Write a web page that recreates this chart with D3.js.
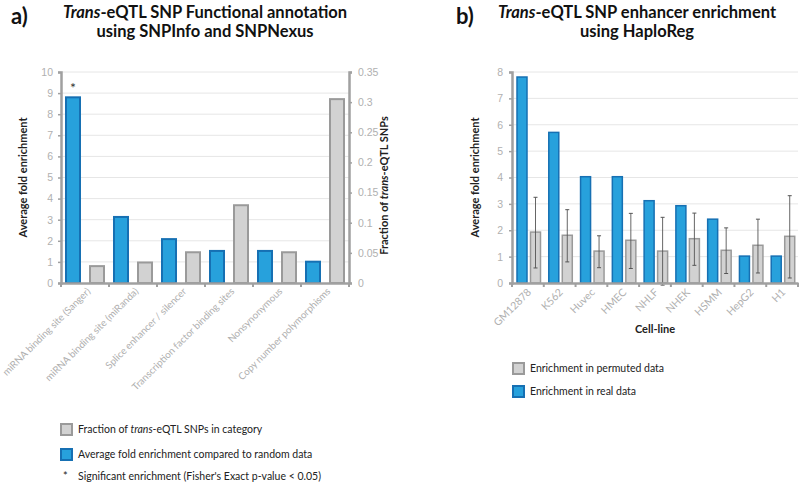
<!DOCTYPE html>
<html><head><meta charset="utf-8">
<script src="https://cdn.jsdelivr.net/npm/d3@7"></script>
<style>
body{margin:0;background:#fff;}
svg{font-family:Lato,"Open Sans",sans-serif;}
</style></head>
<body><svg id="c" width="800" height="483"></svg>
<script>
// ---- Panel a data ----
const catsA = ["miRNA binding site (Sanger)","miRNA binding site (miRanda)","Splice enhancer / silencer","Transcription factor binding sites","Nonsynonymous","Copy number polymorphisms"];
const foldA = [8.8, 3.13, 2.08, 1.52, 1.52, 1.01];
const fracA = [0.028, 0.034, 0.051, 0.129, 0.051, 0.305];
const sigA = [true, false, false, false, false, false];
const leftTicksA = [0,1,2,3,4,5,6,7,8,9,10];
const rightTicksA = [0,0.05,0.1,0.15,0.2,0.25,0.3,0.35];

// ---- Panel b data ----
const catsB = ["GM12878","K562","Huvec","HMEC","NHLF","NHEK","HSMM","HepG2","H1"];
const realB = [7.81, 5.71, 4.03, 4.03, 3.12, 2.93, 2.42, 1.02, 1.02];
const permB = [1.93, 1.81, 1.21, 1.62, 1.21, 1.68, 1.24, 1.43, 1.77];
const permHiB = [3.25, 2.78, 1.79, 2.64, 2.49, 2.65, 2.09, 2.42, 3.31];
const permLoB = [0.57, 0.80, 0.58, 0.55, -0.08, 0.67, 0.36, 0.38, 0.19];
const ticksB = [0,1,2,3,4,5,6,7,8];

const BLUE = "#27a1dc", BLUE_S = "#1670b3", GREY = "#d2d2d2", GREY_S = "#9a9a9a";
const AXIS = "#a0a0a0", GRID = "#e6e6e6", TICKTXT = "#b0b0b0";

const svg = d3.select("#c");

function title(x, y, italic, rest){
  const t = svg.append("text").attr("x",x).attr("y",y).attr("text-anchor","middle")
    .attr("font-size",16.5).attr("font-weight",700).attr("fill","#111");
  if (italic) t.append("tspan").attr("font-style","italic").text(italic);
  t.append("tspan").text(rest);
}

// ================= Panel a =================
(function(){
  const x0 = 61, x1 = 349, yTop = 72, yBot = 283;
  const x = d3.scaleBand().domain(catsA).range([x0, x1]);
  const yL = d3.scaleLinear().domain([0,10]).range([yBot, yTop]);
  const yR = d3.scaleLinear().domain([0,0.35]).range([yBot, yTop]);
  const g = svg.append("g");

  g.selectAll("line.grid").data(leftTicksA.slice(1)).join("line")
    .attr("x1", x0).attr("x2", x1).attr("y1", d=>yL(d)).attr("y2", d=>yL(d))
    .attr("stroke", GRID).attr("stroke-width",1);

  const bw = 16;
  g.selectAll("rect.blue").data(catsA).join("rect")
    .attr("x", d=>x(d)+5).attr("width", bw-2)
    .attr("y", (d,i)=>yL(foldA[i])).attr("height",(d,i)=>yBot-yL(foldA[i]))
    .attr("fill", BLUE).attr("stroke", BLUE_S).attr("stroke-width",2);
  g.selectAll("rect.grey").data(catsA).join("rect")
    .attr("x", d=>x(d)+29).attr("width", bw-2)
    .attr("y", (d,i)=>yR(fracA[i])).attr("height",(d,i)=>yBot-yR(fracA[i]))
    .attr("fill", GREY).attr("stroke", GREY_S).attr("stroke-width",2);

  g.selectAll("text.sig").data(catsA.filter((d,i)=>sigA[i])).join("text")
    .attr("x", d=>x(d)+12).attr("y", d=>yL(foldA[catsA.indexOf(d)])-4)
    .attr("text-anchor","middle").attr("font-size",14).attr("fill","#333").text("*");

  const axL = d3.axisLeft(yL).tickValues(leftTicksA).tickSize(3).tickPadding(5);
  const gl = g.append("g").attr("transform",`translate(${x0},0)`).call(axL);
  const axR = d3.axisRight(yR).tickValues(rightTicksA).tickSize(3).tickPadding(6)
    .tickFormat(d=>d3.format("~g")(d));
  const gr = g.append("g").attr("transform",`translate(${x1},0)`).call(axR);
  const gb = g.append("g").attr("transform",`translate(0,${yBot})`).call(d3.axisBottom(x).tickSize(0).tickFormat(""));
  [gl,gr,gb].forEach(a=>{
    a.select(".domain").attr("stroke",AXIS).attr("stroke-width",2.5);
    a.selectAll(".tick line").attr("stroke",AXIS).attr("stroke-width",1.5);
    a.selectAll(".tick text").attr("fill",TICKTXT).attr("font-size",10.5);
  });
  const bounds = catsA.map(d=>x(d)).concat([x1]);
  g.selectAll("line.bt").data(bounds).join("line")
    .attr("x1",d=>d).attr("x2",d=>d).attr("y1",yBot).attr("y2",yBot+4)
    .attr("stroke",AXIS).attr("stroke-width",2);

  g.selectAll("text.xl").data(catsA).join("text")
    .attr("transform", d=>`translate(${x(d)+x.bandwidth()/2+6},${yBot+9}) rotate(-45)`)
    .attr("text-anchor","end").attr("font-size",9.8).attr("fill",TICKTXT).text(d=>d);

  g.append("text").attr("transform",`translate(27,${(yTop+yBot)/2}) rotate(-90)`)
    .attr("text-anchor","middle").attr("font-size",11).attr("font-weight",700).attr("fill","#222")
    .text("Average fold enrichment");
  const rt = g.append("text").attr("transform",`translate(388,${(yTop+yBot)/2+8}) rotate(-90)`)
    .attr("text-anchor","middle").attr("font-size",11).attr("font-weight",700).attr("fill","#222");
  rt.append("tspan").text("Fraction of ");
  rt.append("tspan").attr("font-style","italic").text("trans");
  rt.append("tspan").text("-eQTL SNPs");

  svg.append("text").attr("x",11).attr("y",24).attr("font-size",22).attr("font-weight",700).attr("fill","#111").text("a)");
  title(205, 18, "Trans", "-eQTL SNP Functional annotation");
  title(205, 36.5, null, "using SNPInfo and SNPNexus");

  const lg = svg.append("g");
  lg.append("rect").attr("x",61).attr("y",424).attr("width",11).attr("height",11)
    .attr("fill",GREY).attr("stroke",GREY_S).attr("stroke-width",2);
  const l1 = lg.append("text").attr("x",78).attr("y",433).attr("font-size",10.5).attr("fill","#222");
  l1.append("tspan").text("Fraction of ");
  l1.append("tspan").attr("font-style","italic").text("trans");
  l1.append("tspan").text("-eQTL SNPs in category");
  lg.append("rect").attr("x",61).attr("y",449).attr("width",11).attr("height",11)
    .attr("fill",BLUE).attr("stroke",BLUE_S).attr("stroke-width",2);
  lg.append("text").attr("x",78).attr("y",458).attr("font-size",10.5).attr("fill","#222")
    .text("Average fold enrichment compared to random data");
  lg.append("text").attr("x",63).attr("y",480).attr("font-size",11).attr("fill","#222").text("*");
  lg.append("text").attr("x",78).attr("y",480).attr("font-size",10.5).attr("fill","#222")
    .text("Significant enrichment (Fisher's Exact p-value < 0.05)");
})();

// ================= Panel b =================
(function(){
  const x0 = 512, x1 = 798, yTop = 72, yBot = 283;
  const x = d3.scaleBand().domain(catsB).range([x0, x1]);
  const y = d3.scaleLinear().domain([0,8]).range([yBot, yTop]);
  const g = svg.append("g");

  g.selectAll("line.grid").data(ticksB.slice(1)).join("line")
    .attr("x1", x0).attr("x2", x1).attr("y1", d=>y(d)).attr("y2", d=>y(d))
    .attr("stroke", GRID).attr("stroke-width",1);

  const bw = 10;
  g.selectAll("rect.blue").data(catsB).join("rect")
    .attr("x", d=>x(d)+5).attr("width", bw)
    .attr("y", (d,i)=>y(realB[i])).attr("height",(d,i)=>yBot-y(realB[i]))
    .attr("fill", BLUE).attr("stroke", BLUE_S).attr("stroke-width",1.5);
  g.selectAll("rect.grey").data(catsB).join("rect")
    .attr("x", d=>x(d)+18.5).attr("width", bw)
    .attr("y", (d,i)=>y(permB[i])).attr("height",(d,i)=>yBot-y(permB[i]))
    .attr("fill", GREY).attr("stroke", GREY_S).attr("stroke-width",1.5);

  const ex = d=>x(d)+23.5;
  g.selectAll("line.err").data(catsB).join("line")
    .attr("x1",ex).attr("x2",ex).attr("y1",(d,i)=>y(permHiB[i])).attr("y2",(d,i)=>y(permLoB[i]))
    .attr("stroke","#555").attr("stroke-width",0.9);
  g.selectAll("line.cap1").data(catsB).join("line")
    .attr("x1",d=>ex(d)-2).attr("x2",d=>ex(d)+2).attr("y1",(d,i)=>y(permHiB[i])).attr("y2",(d,i)=>y(permHiB[i]))
    .attr("stroke","#555").attr("stroke-width",1);
  g.selectAll("line.cap2").data(catsB).join("line")
    .attr("x1",d=>ex(d)-2).attr("x2",d=>ex(d)+2).attr("y1",(d,i)=>y(permLoB[i])).attr("y2",(d,i)=>y(permLoB[i]))
    .attr("stroke","#555").attr("stroke-width",1);

  const gl = g.append("g").attr("transform",`translate(${x0},0)`).call(d3.axisLeft(y).tickValues(ticksB).tickSize(3).tickPadding(6));
  const gb = g.append("g").attr("transform",`translate(0,${yBot})`).call(d3.axisBottom(x).tickSize(0).tickFormat(""));
  [gl,gb].forEach(a=>{
    a.select(".domain").attr("stroke",AXIS).attr("stroke-width",2.5);
    a.selectAll(".tick line").attr("stroke",AXIS).attr("stroke-width",1.5);
    a.selectAll(".tick text").attr("fill",TICKTXT).attr("font-size",10.5);
  });
  const bounds = catsB.map(d=>x(d)).concat([x1]);
  g.selectAll("line.bt").data(bounds).join("line")
    .attr("x1",d=>d).attr("x2",d=>d).attr("y1",yBot).attr("y2",yBot+4)
    .attr("stroke",AXIS).attr("stroke-width",2);

  g.selectAll("text.xl").data(catsB).join("text")
    .attr("transform", d=>`translate(${x(d)+x.bandwidth()/2+4},${yBot+10}) rotate(-45)`)
    .attr("text-anchor","end").attr("font-size",10.5).attr("fill",TICKTXT).text(d=>d);

  g.append("text").attr("x",655).attr("y",333).attr("text-anchor","middle")
    .attr("font-size",11).attr("font-weight",700).attr("fill","#222").text("Cell-line");
  g.append("text").attr("transform",`translate(479,${(yTop+yBot)/2}) rotate(-90)`)
    .attr("text-anchor","middle").attr("font-size",11).attr("font-weight",700).attr("fill","#222")
    .text("Average fold enrichment");

  svg.append("text").attr("x",456).attr("y",24).attr("font-size",22).attr("font-weight",700).attr("fill","#111").text("b)");
  title(637, 18, "Trans", "-eQTL SNP enhancer enrichment");
  title(637, 36.5, null, "using HaploReg");

  const lg = svg.append("g");
  lg.append("rect").attr("x",513).attr("y",363).attr("width",11).attr("height",11)
    .attr("fill",GREY).attr("stroke",GREY_S).attr("stroke-width",2);
  lg.append("text").attr("x",530).attr("y",372).attr("font-size",10.5).attr("fill","#222").text("Enrichment in permuted data");
  lg.append("rect").attr("x",513).attr("y",386).attr("width",11).attr("height",11)
    .attr("fill",BLUE).attr("stroke",BLUE_S).attr("stroke-width",2);
  lg.append("text").attr("x",530).attr("y",395).attr("font-size",10.5).attr("fill","#222").text("Enrichment in real data");
})();
</script></body></html>
